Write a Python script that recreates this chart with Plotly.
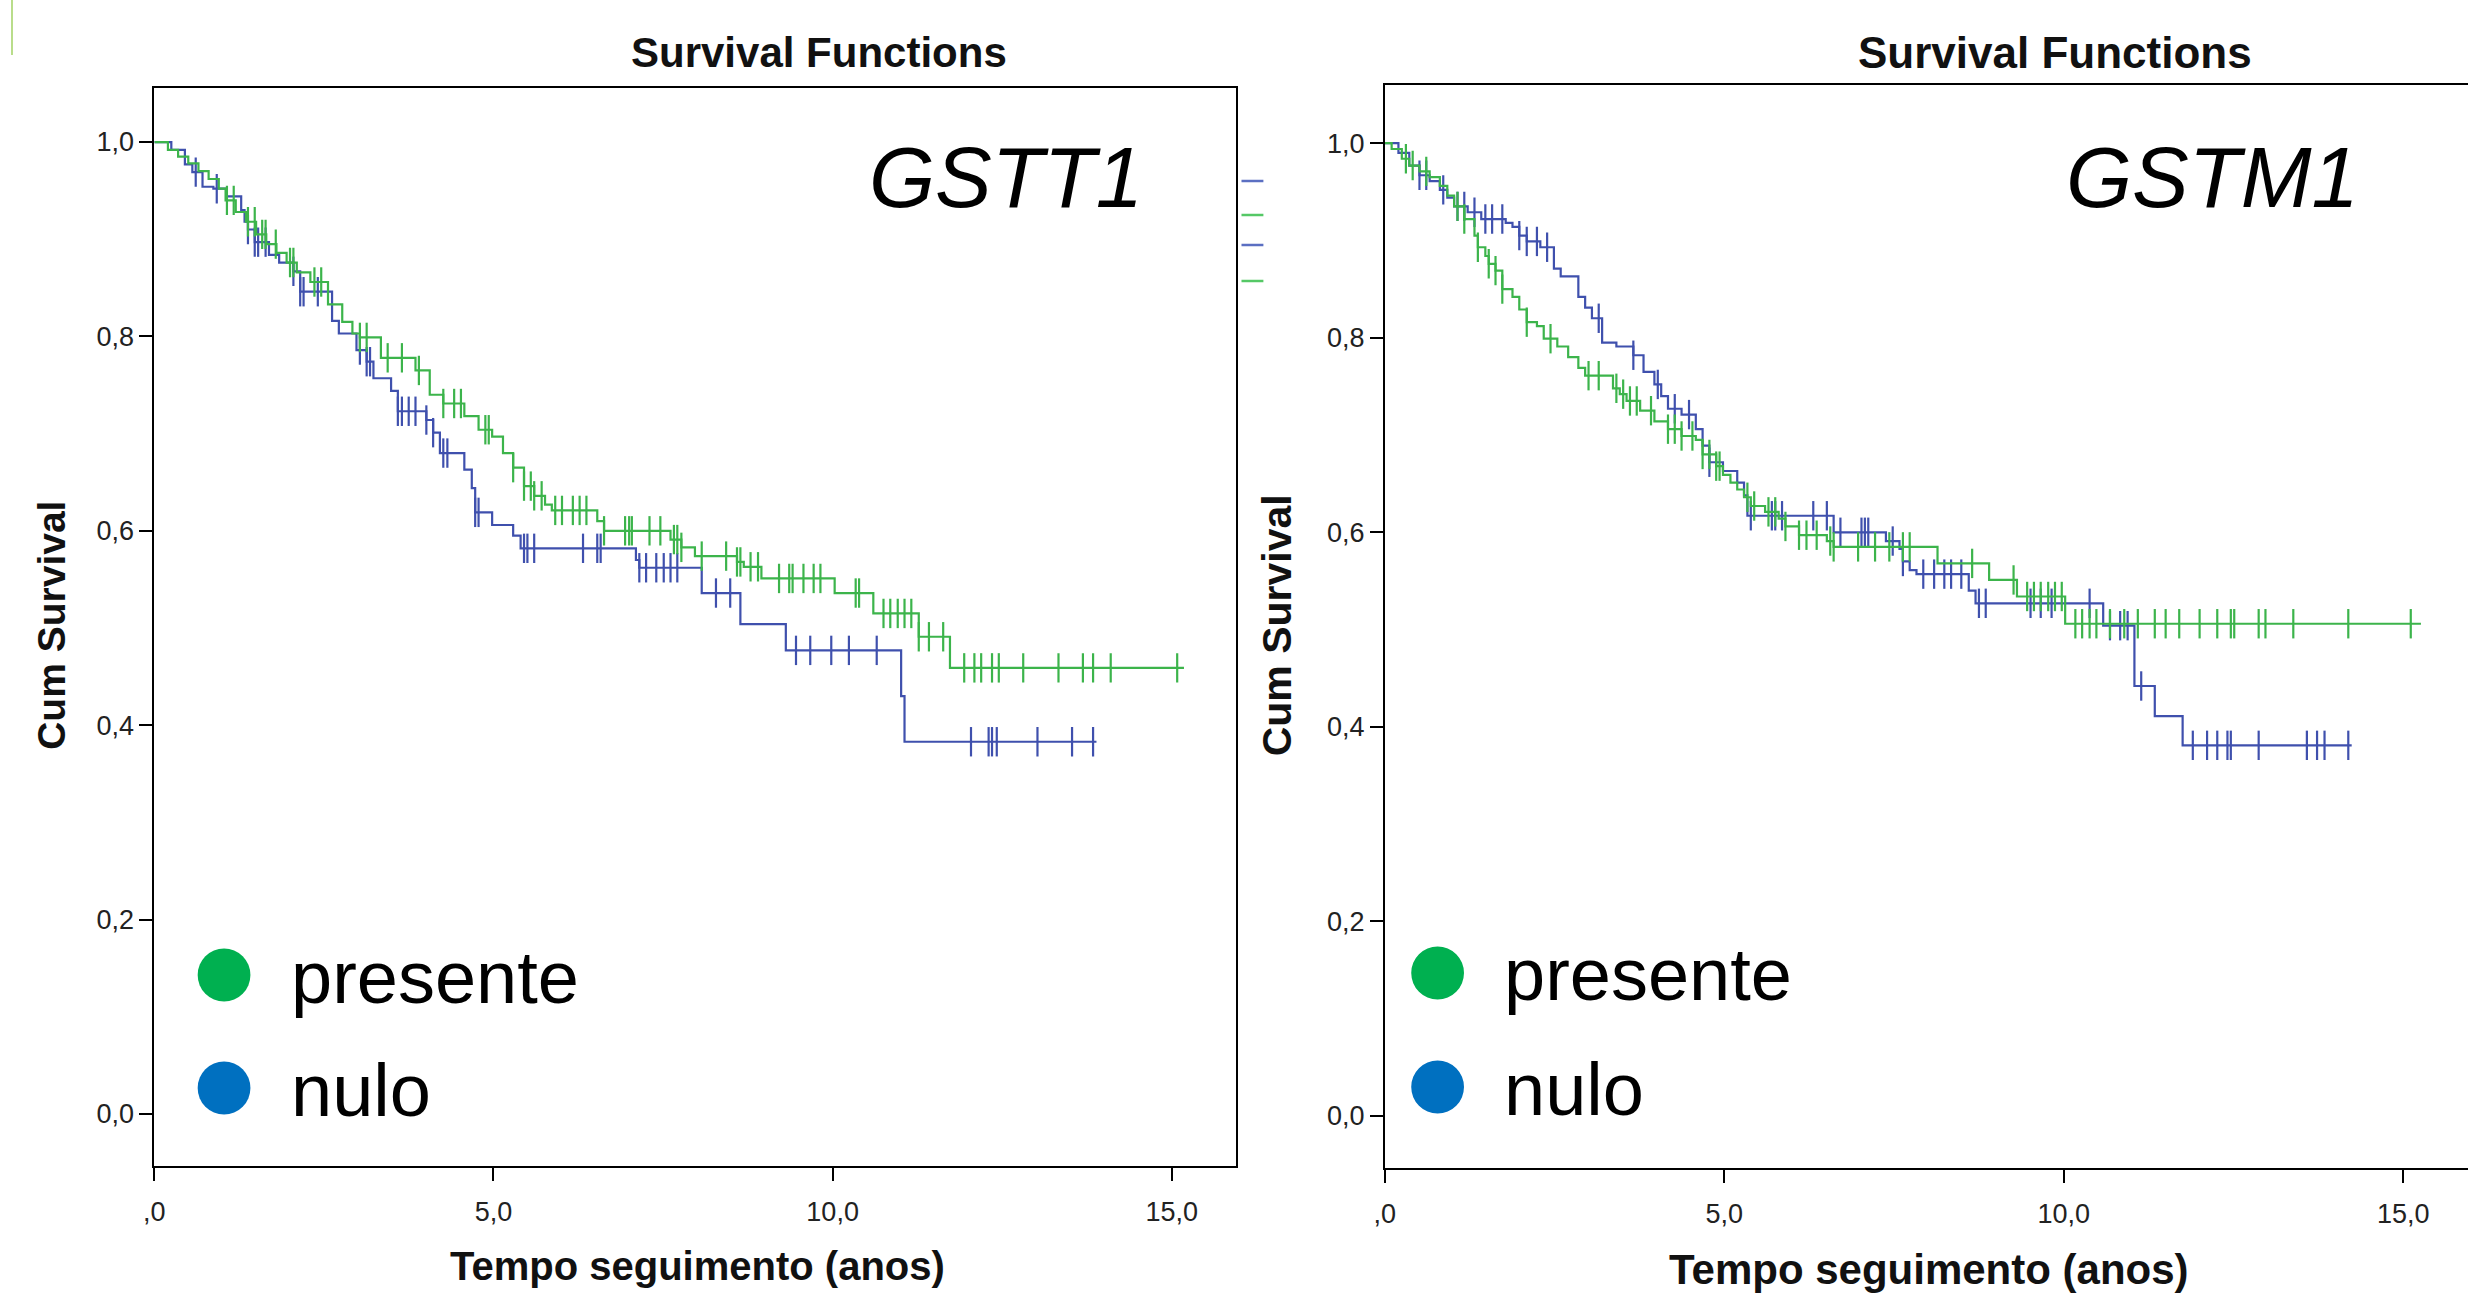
import numpy as np
import plotly.graph_objects as go

W, H = 2468, 1294

# ---------------- axis ticks ----------------
x_tickvals = [0, 5, 10, 15]
x_ticktext = [",0", "5,0", "10,0", "15,0"]
y_tickvals = [0.0, 0.2, 0.4, 0.6, 0.8, 1.0]
y_ticktext = ["0,0", "0,2", "0,4", "0,6", "0,8", "1,0"]

panel_names = ["GSTT1", "GSTM1"]
group_names = ["presente", "nulo"]

# ---------------- GSTT1 : presente ----------------
gstt1_pres_t = [0, 0.20, 0.35, 0.50, 0.65, 0.80, 0.95, 1.05, 1.20, 1.35,
                1.50, 1.65, 1.80, 1.95, 2.10, 2.30, 2.56, 2.77, 2.92, 3.03,
                3.34, 3.85, 4.06, 4.26, 4.57, 4.78, 4.98, 5.14, 5.29, 5.45,
                5.60, 5.76, 5.86, 6.53, 6.63, 7.61, 7.77, 7.97, 8.59, 8.69,
                8.95, 10.03, 10.60, 11.27, 11.73]
gstt1_pres_s = [1.0, 0.992, 0.985, 0.978, 0.970, 0.962, 0.952, 0.940, 0.928, 0.918,
                0.905, 0.895, 0.886, 0.876, 0.866, 0.856, 0.833, 0.815, 0.803, 0.799,
                0.778, 0.765, 0.740, 0.731, 0.718, 0.704, 0.697, 0.680, 0.665, 0.646,
                0.636, 0.627, 0.621, 0.610, 0.600, 0.591, 0.583, 0.574, 0.568, 0.563,
                0.551, 0.536, 0.515, 0.491, 0.459]
gstt1_pres_end = 15.18
gstt1_pres_cens = [1.07, 1.17, 1.38, 1.48, 1.59, 1.64, 1.79, 2.00, 2.05, 2.36,
                   2.46, 3.03, 3.13, 3.44, 3.65, 3.90, 4.26, 4.42, 4.52, 4.88,
                   4.93, 5.29, 5.45, 5.55, 5.60, 5.71, 5.91, 6.01, 6.17, 6.27,
                   6.37, 6.63, 6.94, 7.00, 7.04, 7.30, 7.46, 7.66, 7.71, 7.77,
                   8.07, 8.43, 8.59, 8.64, 8.79, 8.90, 9.21, 9.36, 9.41, 9.57,
                   9.72, 9.82, 10.34, 10.39, 10.75, 10.85, 10.96, 11.06, 11.16, 11.27,
                   11.42, 11.63, 11.94, 12.09, 12.19, 12.35, 12.45, 12.81, 13.33, 13.69,
                   13.84, 14.10, 15.08]

# ---------------- GSTT1 : nulo ----------------
gstt1_nulo_t = [0, 0.25, 0.45, 0.56, 0.71, 0.87, 1.07, 1.28, 1.33, 1.38,
                1.48, 1.69, 1.84, 2.05, 2.15, 2.62, 2.72, 2.98, 3.13, 3.23,
                3.49, 3.59, 4.01, 4.11, 4.21, 4.57, 4.68, 4.73, 4.98, 5.29,
                5.40, 7.10, 7.15, 8.07, 8.64, 9.31, 11.01, 11.06]
gstt1_nulo_s = [1.0, 0.992, 0.977, 0.969, 0.954, 0.952, 0.944, 0.930, 0.918, 0.910,
                0.897, 0.884, 0.876, 0.867, 0.846, 0.816, 0.803, 0.786, 0.774, 0.757,
                0.744, 0.723, 0.714, 0.701, 0.680, 0.663, 0.644, 0.619, 0.606, 0.595,
                0.582, 0.570, 0.562, 0.536, 0.504, 0.477, 0.430, 0.383]
gstt1_nulo_end = 13.89
gstt1_nulo_cens = [0.61, 0.92, 1.38, 1.48, 1.53, 1.64, 2.05, 2.15, 2.20, 2.41,
                   3.03, 3.13, 3.18, 3.59, 3.65, 3.75, 3.85, 4.01, 4.11, 4.26,
                   4.32, 4.73, 4.78, 5.45, 5.50, 5.60, 6.32, 6.53, 6.58, 7.15,
                   7.25, 7.40, 7.51, 7.61, 7.71, 8.28, 8.49, 9.46, 9.67, 9.98,
                   10.24, 10.65, 12.04, 12.30, 12.35, 12.42, 13.02, 13.53, 13.84]

# ---------------- GSTM1 : presente ----------------
gstm1_pres_t = [0, 0.10, 0.25, 0.36, 0.51, 0.66, 0.81, 0.92, 1.02, 1.17,
                1.32, 1.37, 1.48, 1.53, 1.63, 1.73, 1.88, 1.98, 2.09, 2.24,
                2.34, 2.54, 2.70, 2.85, 2.95, 3.36, 3.46, 3.56, 3.76, 3.97,
                4.17, 4.37, 4.58, 4.68, 4.88, 4.98, 5.09, 5.19, 5.29, 5.39,
                5.60, 5.80, 5.90, 6.10, 6.51, 6.61, 8.14, 8.90, 9.31, 10.02]
gstm1_pres_s = [1.0, 0.994, 0.984, 0.977, 0.971, 0.965, 0.956, 0.946, 0.935, 0.922,
                0.905, 0.893, 0.884, 0.876, 0.869, 0.850, 0.842, 0.829, 0.816, 0.812,
                0.799, 0.791, 0.780, 0.769, 0.761, 0.748, 0.742, 0.735, 0.725, 0.714,
                0.706, 0.699, 0.695, 0.680, 0.668, 0.659, 0.651, 0.644, 0.636, 0.627,
                0.621, 0.614, 0.606, 0.597, 0.591, 0.585, 0.568, 0.551, 0.534, 0.506]
gstm1_pres_end = 15.26
gstm1_pres_cens = [0.31, 0.41, 0.61, 1.07, 1.17, 1.37, 1.53, 1.63, 1.73, 2.09,
                   2.44, 3.00, 3.15, 3.41, 3.51, 3.61, 3.71, 3.92, 4.17, 4.27,
                   4.37, 4.53, 4.68, 4.78, 4.88, 4.93, 5.34, 5.44, 5.65, 5.75,
                   5.90, 6.10, 6.21, 6.36, 6.56, 6.61, 6.97, 7.22, 7.43, 7.63,
                   7.73, 8.65, 9.26, 9.46, 9.56, 9.66, 9.77, 9.87, 9.97, 10.17,
                   10.27, 10.38, 10.48, 10.68, 10.89, 11.09, 11.34, 11.50, 11.70, 12.00,
                   12.26, 12.46, 12.51, 12.87, 12.97, 13.38, 14.19, 15.11]

# ---------------- GSTM1 : nulo ----------------
gstm1_nulo_t = [0, 0.20, 0.36, 0.51, 0.66, 0.81, 0.92, 1.02, 1.22, 1.42,
                1.78, 1.88, 1.98, 2.09, 2.29, 2.49, 2.59, 2.85, 2.95, 3.05,
                3.20, 3.41, 3.66, 3.81, 3.97, 4.07, 4.17, 4.37, 4.58, 4.68,
                4.78, 4.98, 5.19, 5.29, 5.34, 6.61, 7.38, 7.58, 7.63, 7.73,
                7.83, 8.60, 8.70, 10.58, 11.04, 11.34, 11.75]
gstm1_nulo_s = [1.0, 0.990, 0.977, 0.967, 0.961, 0.952, 0.944, 0.935, 0.929, 0.922,
                0.918, 0.914, 0.905, 0.899, 0.893, 0.871, 0.863, 0.842, 0.831, 0.820,
                0.795, 0.791, 0.782, 0.765, 0.752, 0.740, 0.727, 0.721, 0.706, 0.689,
                0.672, 0.663, 0.651, 0.638, 0.617, 0.600, 0.591, 0.583, 0.570, 0.561,
                0.557, 0.540, 0.527, 0.504, 0.442, 0.411, 0.381]
gstm1_nulo_end = 14.24
gstm1_nulo_cens = [0.51, 0.61, 0.86, 1.07, 1.17, 1.32, 1.48, 1.58, 1.73, 1.98,
                   2.09, 2.24, 2.39, 3.15, 3.66, 4.02, 4.27, 4.48, 4.78, 5.39,
                   5.70, 5.75, 5.85, 6.31, 6.51, 6.71, 7.02, 7.07, 7.12, 7.48,
                   7.63, 7.93, 8.09, 8.24, 8.34, 8.49, 8.75, 8.85, 9.51, 9.66,
                   9.82, 10.38, 10.68, 10.83, 10.94, 11.14, 11.90, 12.11, 12.26, 12.41,
                   12.46, 12.87, 13.58, 13.73, 13.84, 14.19]

# ---------------- styles ----------------
GREEN_LINE = "#3cb44b"
BLUE_LINE = "#3f50ad"
GREEN_DOT = "#00b050"
BLUE_DOT = "#0070c0"
FONT = "Arial, 'Liberation Sans', Helvetica, sans-serif"
XOFF = -7  # small horizontal nudge (pixels)


def surv_at(times, surv, x):
    t = np.asarray(times)
    s = np.asarray(surv)
    idx = np.searchsorted(t, np.asarray(x), side="right") - 1
    return s[idx]


def px(x):
    return (x + XOFF) / W


def py(y):
    return 1 - y / H


fig = go.Figure()

series = [
    ("x", "y", gstt1_nulo_t, gstt1_nulo_s, gstt1_nulo_end, gstt1_nulo_cens, BLUE_LINE),
    ("x", "y", gstt1_pres_t, gstt1_pres_s, gstt1_pres_end, gstt1_pres_cens, GREEN_LINE),
    ("x2", "y2", gstm1_nulo_t, gstm1_nulo_s, gstm1_nulo_end, gstm1_nulo_cens, BLUE_LINE),
    ("x2", "y2", gstm1_pres_t, gstm1_pres_s, gstm1_pres_end, gstm1_pres_cens, GREEN_LINE),
]

for xa, ya, t, s, end, cens, col in series:
    xs = list(t) + [end]
    ys = list(s) + [s[-1]]
    fig.add_trace(go.Scatter(x=xs, y=ys, mode="lines", line=dict(color=col, width=2.2, shape="hv"),
                             xaxis=xa, yaxis=ya, showlegend=False, hoverinfo="skip"))
    fig.add_trace(go.Scatter(x=cens, y=surv_at(t, s, cens), mode="markers",
                             marker=dict(symbol="line-ns", size=21, line=dict(color=col, width=2.2)),
                             xaxis=xa, yaxis=ya, showlegend=False, hoverinfo="skip"))

axis_common = dict(showgrid=False, zeroline=False, showline=True, linecolor="black", linewidth=2,
                   ticks="outside", ticklen=13, tickwidth=2, tickcolor="black",
                   tickfont=dict(family=FONT, size=27, color="#222222"))

right_x0 = 1387 + XOFF
fig.update_layout(
    width=W, height=H, margin=dict(l=0, r=0, t=0, b=0),
    paper_bgcolor="white", plot_bgcolor="white", showlegend=False,
    xaxis=dict(domain=[px(151), px(1237)], range=[0, 15.94], tickvals=x_tickvals, ticktext=x_ticktext,
               mirror=True, anchor="y", ticklabelstandoff=8, **axis_common),
    yaxis=dict(domain=[py(1166), py(88)], range=[-0.0535, 1.0556], tickvals=y_tickvals,
               ticktext=y_ticktext, mirror=True, anchor="x", **axis_common),
    xaxis2=dict(domain=[right_x0 / W, 1.0], range=[0, (W - right_x0) / 68.2], tickvals=x_tickvals,
                ticktext=x_ticktext, mirror=True, anchor="y2", ticklabelstandoff=8, **axis_common),
    yaxis2=dict(domain=[py(1168), py(85)], range=[-0.0535, 1.0598], tickvals=y_tickvals,
                ticktext=y_ticktext, mirror=False, anchor="x2", **axis_common),
)

ann = []
# chart titles
ann.append(dict(x=px(819), y=py(53), text="<b>Survival Functions</b>", font=dict(family=FONT, size=42, color="#111")))
ann.append(dict(x=px(2060), y=py(52), text="<b>Survival Functions</b>", font=dict(family=FONT, size=44, color="#111")))
# y-axis titles
ann.append(dict(x=px(47), y=py(625), text="<b>Cum Survival</b>", textangle=-90, font=dict(family=FONT, size=39, color="#111")))
ann.append(dict(x=px(1279), y=py(625), text="<b>Cum Survival</b>", textangle=-90, font=dict(family=FONT, size=41, color="#111")))
# x-axis titles
ann.append(dict(x=px(697), y=py(1266), text="<b>Tempo seguimento (anos)</b>", font=dict(family=FONT, size=40, color="#111")))
ann.append(dict(x=px(1934), y=py(1269), text="<b>Tempo seguimento (anos)</b>", font=dict(family=FONT, size=42, color="#111")))
# gene labels
ann.append(dict(x=px(1006), y=py(178), text="<i>" + panel_names[0] + "</i>", font=dict(family=FONT, size=85, color="black")))
ann.append(dict(x=px(2218), y=py(177), text="<i>" + panel_names[1] + "</i>", font=dict(family=FONT, size=85, color="black")))

# manual legends
legend_pos = [(221, 975, 1088, 286), (1440, 973, 1087, 1505)]
shapes = []
for cx, gy, by, tx in legend_pos:
    for yy, col, name in [(gy, GREEN_DOT, group_names[0]), (by, BLUE_DOT, group_names[1])]:
        shapes.append(dict(type="circle", xref="paper", yref="paper",
                           x0=px(cx - 26.5), x1=px(cx + 26.5), y0=py(yy + 26.5), y1=py(yy - 26.5),
                           fillcolor=col, line=dict(width=0)))
        ann.append(dict(x=px(tx), y=py(yy + 2), text=name, xanchor="left",
                        font=dict(family=FONT, size=74, color="black")))

# remnants of the original SPSS legend, cut off at the right of the left chart
for yy, col in [(181, "#5b6fc2"), (215, "#55c866"), (245, "#5b6fc2"), (281, "#55c866")]:
    shapes.append(dict(type="line", xref="paper", yref="paper", x0=px(1243), x1=px(1265),
                       y0=py(yy), y1=py(yy), line=dict(color=col, width=2.5)))

# slide edge accent at top-left
shapes.append(dict(type="rect", xref="paper", yref="paper", x0=0, x1=2 / W, y0=py(55), y1=1,
                   fillcolor="#b9dd8a", line=dict(width=0)))

for a in ann:
    a.setdefault("xref", "paper")
    a.setdefault("yref", "paper")
    a.setdefault("showarrow", False)
    a.setdefault("xanchor", "center")
    a.setdefault("yanchor", "middle")

fig.update_layout(annotations=ann, shapes=shapes)
fig.write_html(
    "out.html",
    config={"displayModeBar": False},
    post_script="document.body.style.margin='0';document.body.style.padding='0';"
                "document.documentElement.style.overflow='hidden';document.body.style.overflow='hidden';",
)
